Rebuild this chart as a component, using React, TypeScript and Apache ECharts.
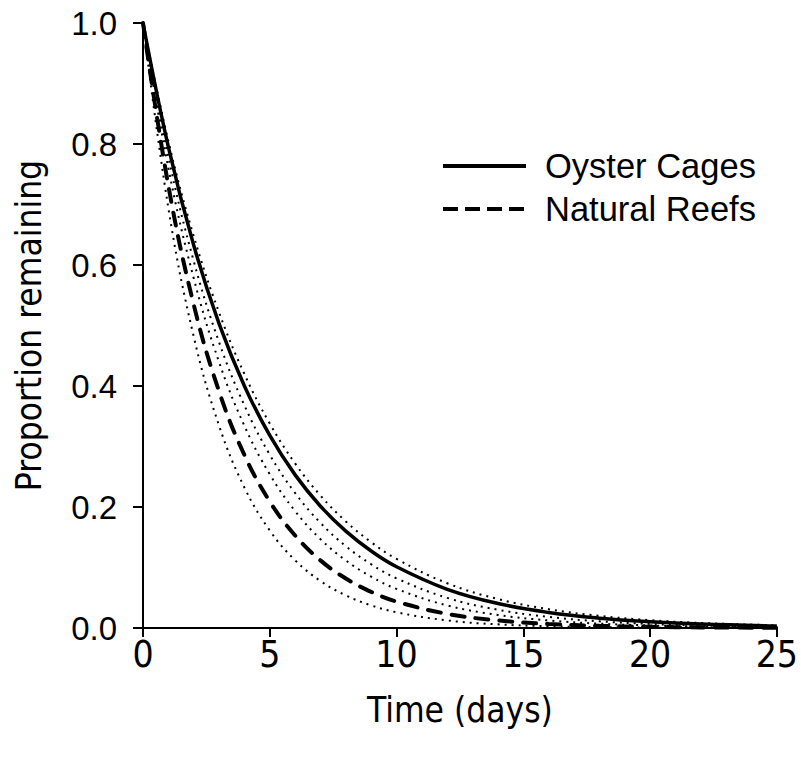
import React, { useEffect, useRef } from "react";
import * as echarts from "echarts";

// Time (days)
const days = [0, 1, 2, 3, 4, 5, 6, 7, 8, 9, 10, 12, 14, 16, 18, 20, 22, 25];

// Proportion remaining
const oysterCages = [1.0, 0.7953, 0.6325, 0.5031, 0.4001, 0.3182, 0.2531, 0.2013, 0.1601, 0.1273, 0.1013, 0.064, 0.0405, 0.0256, 0.0162, 0.0103, 0.0065, 0.0033];
const oysterUpper = [1.0, 0.8049, 0.6479, 0.5215, 0.4198, 0.3379, 0.272, 0.2189, 0.1762, 0.1419, 0.1142, 0.074, 0.0479, 0.0311, 0.0201, 0.013, 0.0084, 0.0044];
const oysterLower = [1.0, 0.7788, 0.6065, 0.4724, 0.3679, 0.2865, 0.2231, 0.1738, 0.1353, 0.1054, 0.0821, 0.0498, 0.0302, 0.0183, 0.0111, 0.0067, 0.0041, 0.0019];
const naturalReefs = [1.0, 0.7312, 0.5347, 0.391, 0.2859, 0.2091, 0.1529, 0.1118, 0.0818, 0.0598, 0.0437, 0.0234, 0.0125, 0.0067, 0.0036, 0.0019, 0.001, 0.0004];
const naturalUpper = [1.0, 0.7604, 0.5782, 0.4396, 0.3342, 0.2541, 0.1932, 0.1469, 0.1117, 0.0849, 0.0646, 0.0373, 0.0216, 0.0125, 0.0072, 0.0042, 0.0024, 0.0011];
const naturalLower = [1.0, 0.6942, 0.4819, 0.3345, 0.2322, 0.1612, 0.1119, 0.0777, 0.0539, 0.0374, 0.026, 0.0125, 0.006, 0.0029, 0.0014, 0.0007, 0.0003, 0.0001];

const legendNames = ["Oyster Cages", "Natural Reefs"];

const FONT = "'Liberation Sans', Arial, sans-serif";
const NARROW = "'DejaVu Sans Condensed', 'Liberation Sans Narrow', 'Liberation Sans', Arial, sans-serif";

const pts = (ys: number[]) => days.map((d, i) => [d, ys[i]]);

export default function App() {
  const ref = useRef<HTMLDivElement>(null);
  useEffect(() => {
    if (!ref.current) return;
    const chart = echarts.init(ref.current, undefined, { renderer: "svg" });
    const dotted = (name: string, ys: number[]) => ({
      name,
      type: "line",
      data: pts(ys),
      smooth: 0.4,
      symbol: "none",
      lineStyle: { color: "#000", width: 2, type: [2, 5] },
      z: 2,
    });
    chart.setOption({
      animation: false,
      backgroundColor: "#fff",
      grid: { left: 143, right: 24, top: 23, bottom: 133, containLabel: false },
      xAxis: {
        type: "value",
        min: 0,
        max: 25,
        interval: 5,
        name: "Time (days)",
        nameLocation: "middle",
        nameGap: 64,
        nameTextStyle: { color: "#000", fontSize: 35, fontFamily: NARROW },
        axisLine: { show: true, lineStyle: { color: "#000", width: 2 } },
        axisTick: { show: true, length: 9, lineStyle: { color: "#000", width: 2 } },
        axisLabel: { color: "#000", fontSize: 37, fontFamily: NARROW, margin: 8 },
        splitLine: { show: false },
      },
      yAxis: {
        type: "value",
        min: 0,
        max: 1,
        interval: 0.2,
        name: "Proportion remaining",
        nameLocation: "middle",
        nameGap: 97,
        nameTextStyle: { color: "#000", fontSize: 35, fontFamily: NARROW },
        axisLine: { show: true, lineStyle: { color: "#000", width: 2 } },
        axisTick: { show: true, length: 10, lineStyle: { color: "#000", width: 2 } },
        axisLabel: {
          color: "#000",
          fontSize: 33,
          fontFamily: FONT,
          margin: 26,
          formatter: (v: number) => v.toFixed(1),
        },
        splitLine: { show: false },
      },
      series: [
        dotted("Oyster Cages upper", oysterUpper),
        dotted("Oyster Cages lower", oysterLower),
        dotted("Natural Reefs upper", naturalUpper),
        dotted("Natural Reefs lower", naturalLower),
        {
          name: legendNames[1],
          type: "line",
          data: pts(naturalReefs),
          smooth: 0.4,
          symbol: "none",
          lineStyle: { color: "#000", width: 4, type: [13, 11], cap: "round" },
          z: 3,
        },
        {
          name: legendNames[0],
          type: "line",
          data: pts(oysterCages),
          smooth: 0.4,
          symbol: "none",
          lineStyle: { color: "#000", width: 3.5 },
          z: 4,
        },
      ],
      graphic: [
        {
          type: "line",
          shape: { x1: 443, y1: 166, x2: 526, y2: 166 },
          style: { stroke: "#000", lineWidth: 4 },
        },
        {
          type: "line",
          shape: { x1: 443, y1: 209, x2: 524, y2: 209 },
          style: { stroke: "#000", lineWidth: 4, lineDash: [15, 7] },
        },
        {
          type: "text",
          x: 545,
          y: 166,
          style: { text: legendNames[0], fontSize: 34.5, fontFamily: FONT, fill: "#000", verticalAlign: "middle" },
        },
        {
          type: "text",
          x: 545,
          y: 209,
          style: { text: legendNames[1], fontSize: 34.5, fontFamily: FONT, fill: "#000", verticalAlign: "middle" },
        },
      ],
    });
    return () => chart.dispose();
  }, []);
  return (
    <div
      ref={ref}
      style={{ position: "absolute", left: 0, top: 0, width: 801, height: 761, background: "#fff" }}
    />
  );
}
